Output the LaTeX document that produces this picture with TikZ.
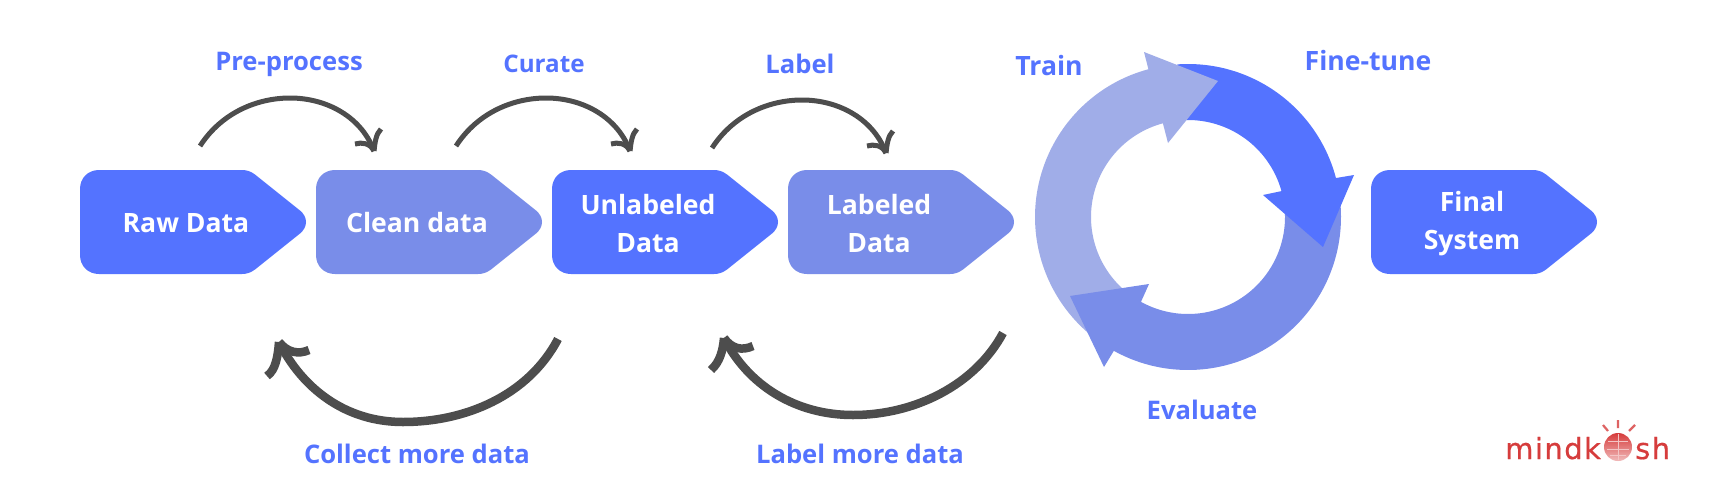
\documentclass[tikz,border=0pt]{standalone}
\usepackage{fontspec}
\setmainfont{Open Sans}
\newfontfamily\logofont[LetterSpace=5,FakeBold=0.6]{DejaVu Sans}
\definecolor{cdark}{HTML}{5473FF}
\definecolor{cmid}{HTML}{798DE9}
\definecolor{clight}{HTML}{A0ADE8}
\definecolor{cline}{HTML}{4D4D4D}
\definecolor{clogo}{HTML}{D63C3C}
\newcommand{\pentpath}[2]{%
  \fill[#2] (#1+19,170) -- (#1+162,170) .. controls (#1+167,170) and (#1+171,171.5) .. (#1+175,174.5) -- (#1+220,210.5) .. controls (#1+228,217) and (#1+228,227) .. (#1+220,233.5) -- (#1+175,269.5) .. controls (#1+171,272.5) and (#1+167,274) .. (#1+162,274) -- (#1+19,274) .. controls (#1+8,274) and (#1,266) .. (#1,255) -- (#1,189) .. controls (#1,178) and (#1+8,170) .. (#1+19,170) -- cycle;}
\tikzset{
  boxtext/.style={text=white,font=\bfseries\fontsize{26.6}{37.5}\selectfont,align=center,inner sep=0pt},
  steplabel/.style={text=cdark,font=\bfseries\fontsize{25.6}{30}\selectfont,inner sep=0pt},
  steplabelsmall/.style={steplabel,font=\bfseries\fontsize{24.2}{30}\selectfont},
  steplabelbig/.style={steplabel,font=\bfseries\fontsize{26.6}{30}\selectfont},
  thinarrow/.style={draw=cline,line width=5pt,fill=none},
  thickarrow/.style={draw=cline,line width=8.5pt,fill=none},
  logotext/.style={text=clogo,font=\logofont\fontsize{29}{32}\selectfont,inner sep=0pt,anchor=base west},
}
\begin{document}
\begin{tikzpicture}[x=1pt,y=-1pt]
\useasboundingbox (0,0) rectangle (1726,480);
\fill[white] (0,0) rectangle (1726,480);
% process boxes
\pentpath{80}{cdark}
\pentpath{316}{cmid}
\pentpath{552}{cdark}
\pentpath{788}{cmid}
\pentpath{1371}{cdark}
\node[boxtext] (raw) at (186,223) {Raw Data};
\node[boxtext] (clean) at (417,223) {Clean data};
\node[boxtext] (unlabeled) at (648,223.5) {Unlabeled\\Data};
\node[boxtext] (labeled) at (879,223.5) {Labeled\\Data};
\node[boxtext] (final) at (1472,223.5) {Final\\System};
% step labels
\node[steplabel] (pre) at (289,64) {Pre-process};
\node[steplabelsmall] (curate) at (544,64) {Curate};
\node[steplabel] (label) at (800,64) {Label};
\node[steplabelbig] (train) at (1049,66) {Train};
\node[steplabelbig] (fine) at (1368,61) {Fine-tune};
\node[steplabel] (evaluate) at (1202,410) {Evaluate};
\node[steplabel] (collect) at (417,454) {Collect more data};
\node[steplabel] (labelmore) at (860,454) {Label more data};
% top arrows
\foreach \s/\d/\n in {0/0/a,256/0/b,512/2/c}{
  \coordinate (\n s) at (200+\s,146+\d);
  \coordinate (\n t) at (374+\s,151+\d);
  \coordinate (\n p) at (355+\s,144+\d);
  \coordinate (\n q) at (381+\s,129+\d);
  \draw[thinarrow] (\n s) .. controls (222+\s,112+\d) and (258+\s,98+\d) .. (290+\s,98+\d) .. controls (328+\s,98+\d) and (362+\s,118+\d) .. (\n t);
  \draw[thinarrow] (\n p) .. controls (362+\s,142+\d) and (370+\s,143+\d) .. (\n t);
  \draw[thinarrow] (\n q) .. controls (376+\s,134+\d) and (375+\s,142+\d) .. (\n t);
}
% bottom arrows
\coordinate (ds) at (558,339);
\coordinate (dt) at (279,342);
\coordinate (dp) at (267,376);
\coordinate (dq) at (309,350);
\draw[thickarrow] (ds) .. controls (528,396) and (465,422) .. (403,422) .. controls (345,422) and (302,388) .. (dt);
\draw[thickarrow] (dp) .. controls (276,370) and (278,355) .. (dt);
\draw[thickarrow] (dq) .. controls (298,355) and (287,352) .. (dt);
\coordinate (es) at (1003,333);
\coordinate (et) at (724,338);
\coordinate (ep) at (711,370);
\coordinate (eq) at (753,346);
\draw[thickarrow] (es) .. controls (975,385) and (915,415) .. (853,415) .. controls (795,415) and (748,385) .. (et);
\draw[thickarrow] (ep) .. controls (720,362) and (723,350) .. (et);
\draw[thickarrow] (eq) .. controls (742,351) and (732,349) .. (et);
% cycle
\fill[cdark] plot[domain=-94:-14,samples=60] ({1188+153*cos(\x)},{217+153*sin(\x)}) -- plot[domain=-14:-94,samples=60] ({1188+97*cos(\x)},{217+97*sin(\x)}) -- cycle;
\fill[clight] plot[domain=128:255,samples=80] ({1188+153*cos(\x)},{217+153*sin(\x)}) -- (1144,52) -- (1218,81) -- (1168,143) -- plot[domain=255:128,samples=80] ({1188+97*cos(\x)},{217+97*sin(\x)}) -- cycle;
\fill[cmid] plot[domain=-5:119,samples=80] ({1188+153*cos(\x)},{217+153*sin(\x)}) -- (1104,367) -- (1070,296) -- (1149,284) -- plot[domain=119:-5,samples=80] ({1188+97*cos(\x)},{217+97*sin(\x)}) -- cycle;
\fill[cdark] (1336,178) -- (1354,175) -- (1323,247) -- (1263,195) -- (1282,191) -- cycle;
% logo
\node[logotext] (logoa) at (1505,459) {mindk};
\node[logotext] (logob) at (1635,459) {sh};
\shade[top color=clogo,bottom color=clogo!35] (1618,447) circle (14);
\draw[white!70!clogo,line width=.8pt] (1618,434) -- (1618,460) (1608,441) -- (1628,441) (1607,449) -- (1629,449) (1610,455) -- (1626,455);
\draw[clogo!80,line width=2.2pt] (1618,420) -- (1618,428) (1603,425) -- (1608,431) (1635,425) -- (1629,431);
\end{tikzpicture}
\end{document}
